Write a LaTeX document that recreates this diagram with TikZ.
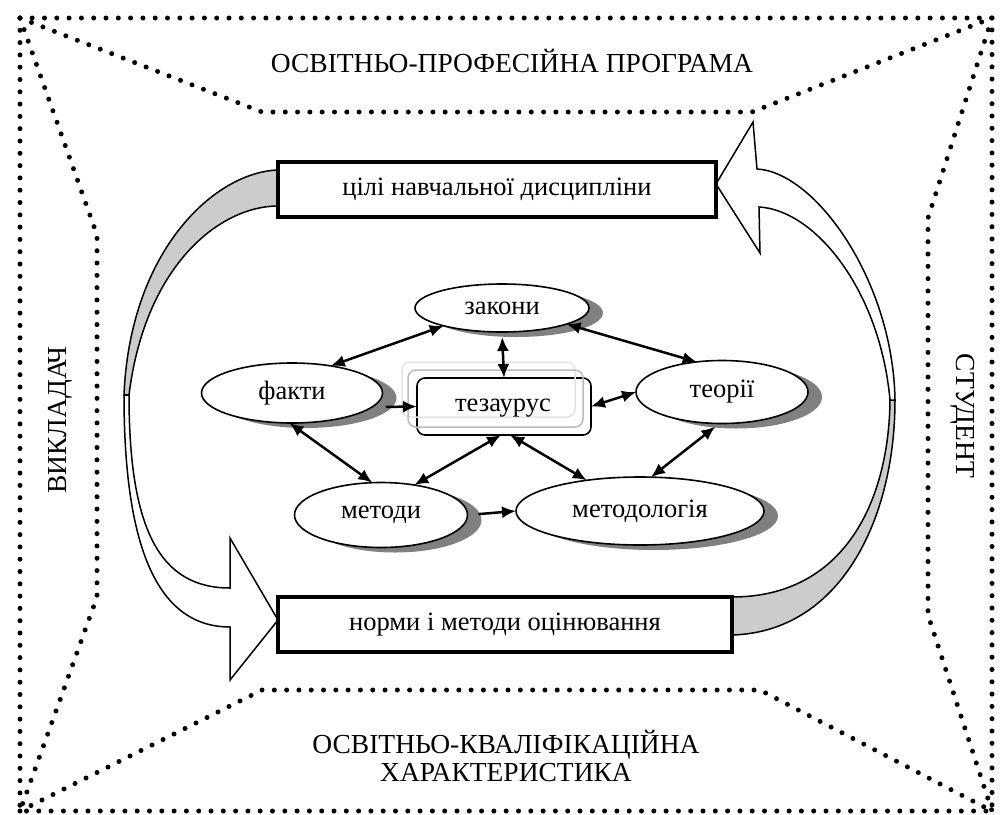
\documentclass[tikz,border=0pt]{standalone}
\usepackage{fontspec}
\setmainfont{Liberation Serif}
\usetikzlibrary{arrows.meta,shapes.geometric,shadows,calc}
\definecolor{bandgray}{HTML}{CCCCCC}
\definecolor{shadowgray}{HTML}{808080}
\definecolor{ghostA}{HTML}{E4E4E4}
\definecolor{ghostB}{HTML}{BBBBBB}
\begin{document}
\begin{tikzpicture}[x=1pt,y=-1pt,
  font=\fontsize{26.5}{28}\selectfont,
  framelabel/.style={font=\fontsize{27.5}{28}\selectfont},
  dotline/.style={line width=5pt, line cap=round, dash pattern=on 0pt off 12.3pt},
  ell/.style={ellipse, draw, line width=1.6pt, fill=white, inner sep=0pt, outer sep=0pt,
    drop shadow={shadow xshift=14pt, shadow yshift=-5pt, opacity=1, fill=shadowgray}},
  bigbox/.style={rectangle, draw, line width=3.2pt, fill=white, inner sep=0pt, outer sep=0pt,
    drop shadow={shadow xshift=2pt, shadow yshift=-2pt, opacity=1, fill=gray}},
  thbox/.style={rectangle, rounded corners=8pt, draw, line width=1.6pt, fill=white, inner sep=0pt, outer sep=0pt},
  conn/.style={line width=2.5pt, {Latex[length=14pt,width=12pt]}-{Latex[length=14pt,width=12pt]}},
  oneway/.style={line width=2.5pt, -{Latex[length=14pt,width=12pt]}},
  band/.style={line width=1.5pt, draw=black, line join=miter}
]
\useasboundingbox (0,0) rectangle (1001,814);

% dotted frame
\draw[dotline] (20,18) rectangle (992,811);
\draw[dotline] (20,18) -- (262,112) -- (752,112) -- (992,18);
\draw[dotline] (20,18) -- (97,235) -- (97,597) -- (20,811);
\draw[dotline] (992,18) -- (928,218) -- (928,615) -- (992,811);
\draw[dotline] (20,811) -- (262,690) -- (760,690) -- (992,811);

% frame texts
\node[framelabel] (opp) at (512,61) {ОСВІТНЬО-ПРОФЕСІЙНА ПРОГРАМА};
\node[framelabel, rotate=90] (vykl) at (60,420) {ВИКЛАДАЧ};
\node[framelabel, rotate=-90] (stud) at (963,416) {СТУДЕНТ};
\node[framelabel, align=center] (okh) at (506,756) {ОСВІТНЬО-КВАЛІФІКАЦІЙНА\\ХАРАКТЕРИСТИКА};

% left curved arrow
\path[band, fill=bandgray] (278,170) .. controls (215,172) and (130,250) .. (124,395)
  -- (129,395) .. controls (145,265) and (220,206) .. (278,206) -- cycle;
\path[band, fill=white] (124,395) .. controls (124,530) and (150,627) .. (230,627)
  -- (230,680) -- (278,620) -- (230,538) -- (230,588)
  .. controls (160,588) and (129,530) .. (129,395) -- cycle;

% right curved arrow
\path[band, fill=bandgray] (732,635) .. controls (840,632) and (895,520) .. (895,400)
  -- (890,400) .. controls (889,500) and (845,597) .. (732,597) -- cycle;
\path[band, fill=white] (895,400) .. controls (893,280) and (815,172) .. (757,169)
  -- (753,122) -- (716,184) -- (760,253) -- (759,207)
  .. controls (815,210) and (880,290) .. (890,400) -- cycle;

% big boxes
\node[bigbox, minimum width=438pt, minimum height=55pt] (goals) at (497,189.5) {цілі навчальної дисципліни};
\node[bigbox, minimum width=454pt, minimum height=55pt] (norms) at (505,624.5) {норми і методи оцінювання};

% thesaurus
\node[thbox, minimum width=174pt, minimum height=57pt] (Th) at (504,406.5) {};
\draw[ghostA, line width=1.5pt, rounded corners=8pt] (402,362) rectangle (575,417);
\draw[ghostB, line width=1.5pt, rounded corners=8pt] (408,370) rectangle (583,427);
\node at (503,408) {тезаурус};

% ellipses
\node[ell, minimum width=174pt, minimum height=48pt] (Z) at (502,308) {закони};
\node[ell, minimum width=181pt, minimum height=60pt] (F) at (292,393) {факти};
\node[ell, minimum width=172pt, minimum height=63pt] (T) at (722,392) {теорії};
\node[ell, minimum width=173pt, minimum height=65pt] (M) at (381,515) {методи};
\node[ell, minimum width=248pt, minimum height=68pt] (ML) at (640,511) {методологія};

% connectors
\draw[conn] (F.35) -- (Z.197);
\draw[conn, shorten <=5pt] (Z.south) -- (Th.north);
\draw[conn] (Z.-14) -- (T.130);
\draw[oneway, shorten <=14pt] (F.-10) -- (Th.west);
\draw[conn] (Th.east) -- (T.west);
\draw[conn] (F.-95) -- (M.105);
\draw[conn] (Th.-96) -- (M.42);
\draw[conn] (Th.-78) -- (ML.150);
\draw[conn, shorten <=5pt] (T.-95) -- (ML.72);
\draw[oneway, shorten <=11pt] (M.east) -- (ML.west);
\end{tikzpicture}
\end{document}
